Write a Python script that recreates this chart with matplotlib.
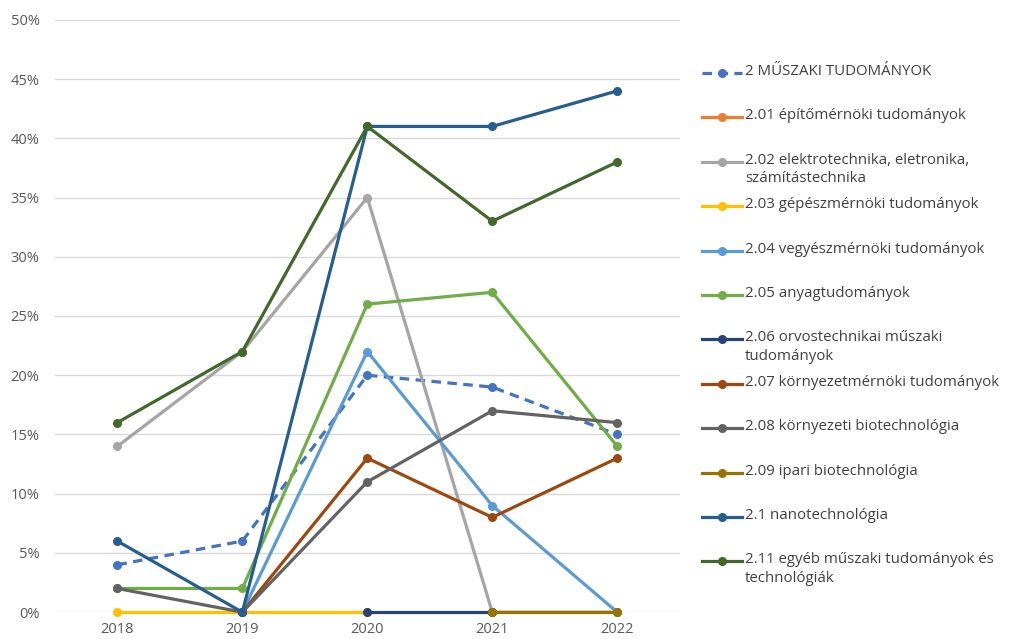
import numpy as np
import matplotlib.pyplot as plt
from matplotlib.lines import Line2D

plt.rcParams['font.family'] = ['Open Sans', 'DejaVu Sans']

years = ['2018', '2019', '2020', '2021', '2022']
nan = np.nan

# share values (%) per field
muszaki = [4, 6, 20, 19, 15]
epito = [nan, nan, nan, nan, nan]
elektro = [14, 22, 35, 0, 0]
gepesz = [0, 0, 0, nan, nan]
vegyesz = [nan, 0, 22, 9, 0]
anyag = [2, 2, 26, 27, 14]
orvos = [nan, nan, 0, 0, nan]
kornyezetm = [nan, 0, 13, 8, 13]
kornyezetb = [2, 0, 11, 17, 16]
ipari = [nan, nan, nan, 0, 0]
nano = [6, 0, 41, 41, 44]
egyeb = [16, 22, 41, 33, 38]

labels = [
    '2 MŰSZAKI TUDOMÁNYOK',
    '2.01 építőmérnöki tudományok',
    '2.02 elektrotechnika, eletronika,\nszámítástechnika',
    '2.03 gépészmérnöki tudományok',
    '2.04 vegyészmérnöki tudományok',
    '2.05 anyagtudományok',
    '2.06 orvostechnikai műszaki\ntudományok',
    '2.07 környezetmérnöki tudományok',
    '2.08 környezeti biotechnológia',
    '2.09 ipari biotechnológia',
    '2.1 nanotechnológia',
    '2.11 egyéb műszaki tudományok és\ntechnológiák',
]
series = [muszaki, epito, elektro, gepesz, vegyesz, anyag, orvos,
          kornyezetm, kornyezetb, ipari, nano, egyeb]
colors = ['#4472C4', '#ED7D31', '#A5A5A5', '#FFC000', '#5B9BD5', '#70AD47',
          '#264478', '#9E480E', '#636363', '#997300', '#255E91', '#43682B']
styles = ['--'] + ['-'] * 11

fig = plt.figure(figsize=(10.16, 6.39), dpi=100)
ax = fig.add_axes([0.054, 0.042, 0.615, 0.927])

x = np.arange(len(years))
for i, (vals, col, ls) in enumerate(zip(series, colors, styles)):
    ax.plot(x, vals, color=col, linestyle=ls, linewidth=2.3,
            marker='o', markersize=5.5,
            dashes=(3, 2) if ls == '--' else (None, None),
            zorder=3 + i * 0.01, clip_on=False)

ax.set_xlim(-0.5, 4.5)
ax.set_ylim(0, 50)
ax.set_yticks(range(0, 51, 5))
ax.set_yticklabels([f'{v}%' for v in range(0, 51, 5)])
ax.set_xticks(x)
ax.set_xticklabels(years)
ax.grid(axis='y', color='#D9D9D9', linewidth=1)
ax.set_axisbelow(True)
for s in ax.spines.values():
    s.set_visible(False)
ax.tick_params(length=0, labelsize=10.5, colors='#595959')
ax.tick_params(axis='x', pad=7)
ax.tick_params(axis='y', pad=11)

# legend drawn by hand so handles line up with the first text line
W, H = 1016, 639
y0, step = 73, 44.4
for i, (lab, col, ls) in enumerate(zip(labels, colors, styles)):
    yy = 1 - (y0 + i * step) / H
    ln = Line2D([702 / W, 742 / W], [yy, yy], transform=fig.transFigure,
                color=col, linewidth=2.3, linestyle=ls)
    if ls == '--':
        ln.set_dashes((3, 2))
    fig.add_artist(ln)
    fig.add_artist(Line2D([722 / W], [yy], transform=fig.transFigure,
                          color=col, marker='o', markersize=5.5))
    fig.text(745 / W, yy + 9 / H, lab, fontsize=10.8, color='#404040',
             va='top', ha='left', linespacing=1.3)

fig.savefig('out.png', dpi=100)
